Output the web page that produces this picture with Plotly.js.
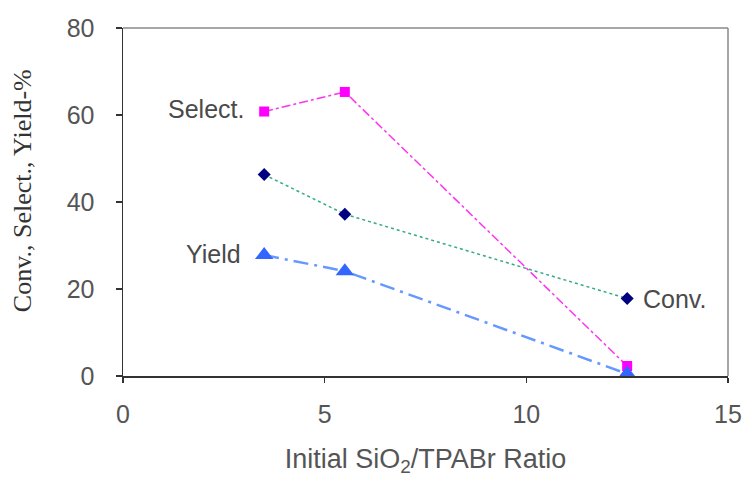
<!DOCTYPE html>
<html><head><meta charset="utf-8">
<script src="https://cdn.plot.ly/plotly-3.0.1.min.js"></script>
<style>html,body{margin:0;padding:0;background:#fff}#c{width:745px;height:481px}</style>
</head><body><div id="c"></div>
<script>
const ratio = [3.5, 5.5, 12.5];
const conv = [46.3, 37.2, 17.8];
const select = [60.8, 65.3, 2.3];
const yieldV = [27.8, 24.1, 0.5];
const labels = ["Select.", "Yield", "Conv."];
const xTicks = [0, 5, 10, 15];
const yTicks = [0, 20, 40, 60, 80];
const yTitle = 'Conv., Select., Yield-%';

const traces = [
  {x: ratio, y: select, mode: 'lines+markers', name: labels[0],
   line: {color: '#ff33ee', width: 1.5, dash: 'dashdot'},
   marker: {symbol: 'square', color: '#ff00ff', size: 10}},
  {x: ratio, y: conv, mode: 'lines+markers', name: labels[2],
   line: {color: '#33aa88', width: 1.5, dash: 'dot'},
   marker: {symbol: 'diamond', color: '#000080', size: 10}},
  {x: ratio, y: yieldV, mode: 'lines+markers', name: labels[1],
   line: {color: '#6699ff', width: 2.5, dash: 'longdashdot'},
   marker: {symbol: 'triangle-up', color: '#3366ff', size: 16}}
];

const annFont = {family: 'Liberation Sans, Arial, sans-serif', size: 25, color: '#4a4a4a'};
const layout = {
  width: 745, height: 481,
  margin: {l: 123, r: 17, t: 28, b: 105},
  paper_bgcolor: '#fff', plot_bgcolor: '#fff',
  showlegend: false,
  font: {family: 'Liberation Sans, Arial, sans-serif', color: '#555'},
  xaxis: {
    range: [0, 15], tickvals: xTicks, ticks: 'outside', ticklen: 5, tickwidth: 1.5,
    tickcolor: '#333', showline: true, linecolor: '#333', linewidth: 1.5, mirror: false,
    showgrid: false, zeroline: false, tickfont: {size: 25, color: '#555'},
    ticklabelstandoff: 10,
    title: {text: 'Initial SiO<sub>2</sub>/TPABr Ratio', font: {size: 27, color: '#555'}, standoff: 22}
  },
  yaxis: {
    range: [0, 80], tickvals: yTicks, ticks: 'outside', ticklen: 6, tickwidth: 1.5,
    tickcolor: '#333', showline: true, linecolor: '#333', linewidth: 1.5, mirror: false,
    showgrid: false, zeroline: false, tickfont: {size: 25, color: '#555'},
    ticklabelstandoff: 16
  },
  shapes: [
    {type: 'line', xref: 'paper', yref: 'paper', x0: 0, x1: 1, y0: 1, y1: 1, line: {color: '#888', width: 1.5}},
    {type: 'line', xref: 'paper', yref: 'paper', x0: 1, x1: 1, y0: 0, y1: 1, line: {color: '#888', width: 1.5}}
  ],
  annotations: [
    {x: ratio[0], y: select[0], xref: 'x', yref: 'y', text: labels[0], showarrow: false, xanchor: 'right', xshift: -18, yshift: 3, font: annFont},
    {x: ratio[0], y: yieldV[0], xref: 'x', yref: 'y', text: labels[1], showarrow: false, xanchor: 'right', xshift: -21, yshift: 1, font: annFont},
    {x: ratio[2], y: conv[2], xref: 'x', yref: 'y', text: labels[2], showarrow: false, xanchor: 'left', xshift: 14, yshift: 0, font: annFont},
    {x: -0.167, y: 0.534, xref: 'paper', yref: 'paper', text: yTitle, showarrow: false, textangle: -90,
     xanchor: 'center', yanchor: 'middle', font: {family: 'Liberation Serif, Times New Roman, serif', size: 26, color: '#333'}}
  ]
};
Plotly.newPlot('c', traces, layout, {displayModeBar: false, staticPlot: true});
</script></body></html>
